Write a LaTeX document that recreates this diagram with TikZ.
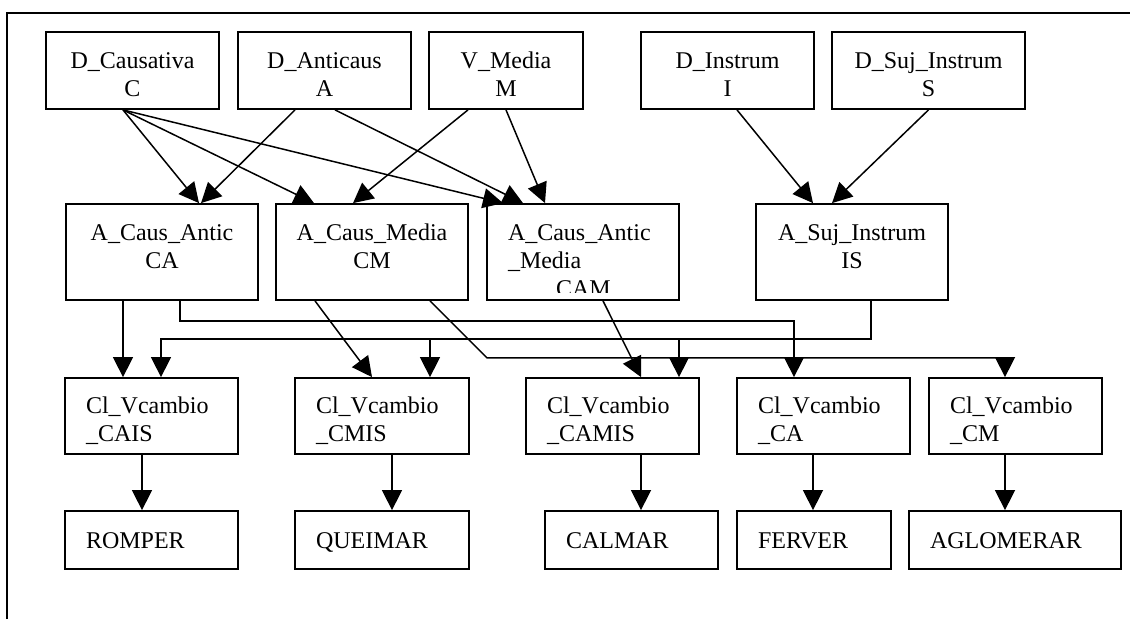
\documentclass[tikz,border=0pt]{standalone}
\usepackage{fontspec}
\setmainfont{Liberation Serif}
\usetikzlibrary{arrows.meta,calc}

\tikzset{
  box/.style={draw, line width=1.8pt, inner ysep=0pt, font=\fontsize{24}{28}\selectfont},
  ctr/.style={box, align=center, inner xsep=10pt, text width=#1-20pt},
  lft/.style={box, align=left, inner xsep=21pt, text width=#1-42pt},
  toprow/.style={ctr=#1, minimum height=77pt, text height=16pt, text depth=21pt},
  midrow/.style={ctr=#1, minimum height=96pt, text height=16pt, text depth=40pt},
  clrow/.style={lft=#1, minimum height=76pt, text height=16pt, text depth=22pt},
  verbrow/.style={lft=#1, minimum height=58pt, text height=16pt, text depth=0pt},
  arr/.style={line width=1.5pt, -{Triangle[length=20pt, width=20pt]}}
}

\begin{document}
\begin{tikzpicture}[x=1pt, y=-1pt]

  \useasboundingbox (0,0) rectangle (1130,619);
  \draw[line width=2pt] (7,619) -- (7,13) -- (1130,13);

  \node[toprow=173pt] (C) at (132.5,70.5) {D\_Causativa\hspace*{8pt}\\C};
  \node[toprow=173pt] (A) at (324.5,70.5) {D\_Anticaus\hspace*{16pt}\\A};
  \node[toprow=154pt] (M) at (506,70.5) {V\_Media\hspace*{22pt}\\M};
  \node[toprow=173pt] (I) at (727.5,70.5) {D\_Instrum\hspace*{29pt}\\I};
  \node[toprow=193pt] (S) at (928.5,70.5) {D\_Suj\_Instrum\\S};

  \node[midrow=192pt] (CA) at (162,252) {A\_Caus\_Antic\hspace*{10pt}\\CA};
  \node[midrow=192pt] (CM) at (372,252) {A\_Caus\_Media\\CM};
  \begin{scope}
    \clip (487,204) rectangle (679,292);
    \node[midrow=192pt, draw=none, align=left, inner xsep=21pt, text width=150pt] (CAM) at (583,252) {A\_Caus\_Antic\\\_Media\\\hspace*{48pt}CAM};
  \end{scope}
  \draw[line width=1.8pt] (487,204) rectangle (679,300);
  \node[midrow=192pt] (IS) at (852,252) {A\_Suj\_Instrum\\IS};

  \node[clrow=173pt] (CAIS) at (151.5,416) {Cl\_Vcambio\\\_CAIS};
  \node[clrow=174pt] (CMIS) at (382,416) {Cl\_Vcambio\\\_CMIS};
  \node[clrow=173pt] (CAMIS) at (612.5,416) {Cl\_Vcambio\\\_CAMIS};
  \node[clrow=173pt] (VCA) at (823.5,416) {Cl\_Vcambio\\\_CA};
  \node[clrow=173pt] (VCM) at (1015.5,416) {Cl\_Vcambio\\\_CM};

  \node[verbrow=173pt] (romper) at (151.5,540) {ROMPER};
  \node[verbrow=174pt] (queimar) at (382,540) {QUEIMAR};
  \node[verbrow=173pt] (calmar) at (631.5,540) {CALMAR};
  \node[verbrow=154pt] (ferver) at (814,540) {FERVER};
  \node[verbrow=212pt] (aglomerar) at (1015,540) {AGLOMERAR};

  \draw[arr] ([xshift=-9.5pt]C.south) -- ([xshift=37pt]CA.north);
  \draw[arr] ([xshift=-9.5pt]C.south) -- ([xshift=-58pt]CM.north);
  \draw[arr] ([xshift=-9.5pt]C.south) -- ([xshift=-80pt]CAM.north);
  \draw[arr] ([xshift=-29.5pt]A.south) -- ([xshift=39pt]CA.north);
  \draw[arr] ([xshift=10.5pt]A.south) -- ([xshift=-60pt]CAM.north);
  \draw[arr] ([xshift=-38pt]M.south) -- ([xshift=-19pt]CM.north);
  \draw[arr] (M.south) -- ([xshift=-38pt]CAM.north);
  \draw[arr] ([xshift=9.5pt]I.south) -- ([xshift=-39pt]IS.north);
  \draw[arr] (S.south) -- ([xshift=-20pt]IS.north);

  \draw[arr] ([xshift=-39pt]CA.south) -- ([xshift=-28.5pt]CAIS.north);
  \draw[arr] ([xshift=18pt]CA.south) -- ++(0,20) -| ([xshift=-29.5pt]VCA.north);
  \draw[arr] ([xshift=-57pt]CM.south) -- ([xshift=-10pt]CMIS.north);
  \draw[arr] ([xshift=58pt]CM.south) -- ++(57,57) -| ([xshift=-10.5pt]VCM.north);
  \draw[arr] ([xshift=20pt]CAM.south) -- ([xshift=28.5pt]CAMIS.north);
  \draw[arr] ([xshift=19pt]IS.south) -- ++(0,38) coordinate (bus) -| ([xshift=9.5pt]CAIS.north);
  \draw[arr] ($(bus -| CMIS.north)+(48,0)$) -- ($(CMIS.north)+(48,0)$);
  \draw[arr] ($(bus -| CAMIS.north)+(66.5,0)$) -- ($(CAMIS.north)+(66.5,0)$);

  \draw[arr] ([xshift=-9.5pt]CAIS.south) -- ([xshift=-9.5pt]romper.north);
  \draw[arr] ([xshift=10pt]CMIS.south) -- ([xshift=10pt]queimar.north);
  \draw[arr] ([xshift=28.5pt]CAMIS.south) -- ([xshift=9.5pt]calmar.north);
  \draw[arr] ([xshift=-10.5pt]VCA.south) -- ([xshift=-1pt]ferver.north);
  \draw[arr] ([xshift=-10.5pt]VCM.south) -- ([xshift=-10pt]aglomerar.north);

\end{tikzpicture}
\end{document}
